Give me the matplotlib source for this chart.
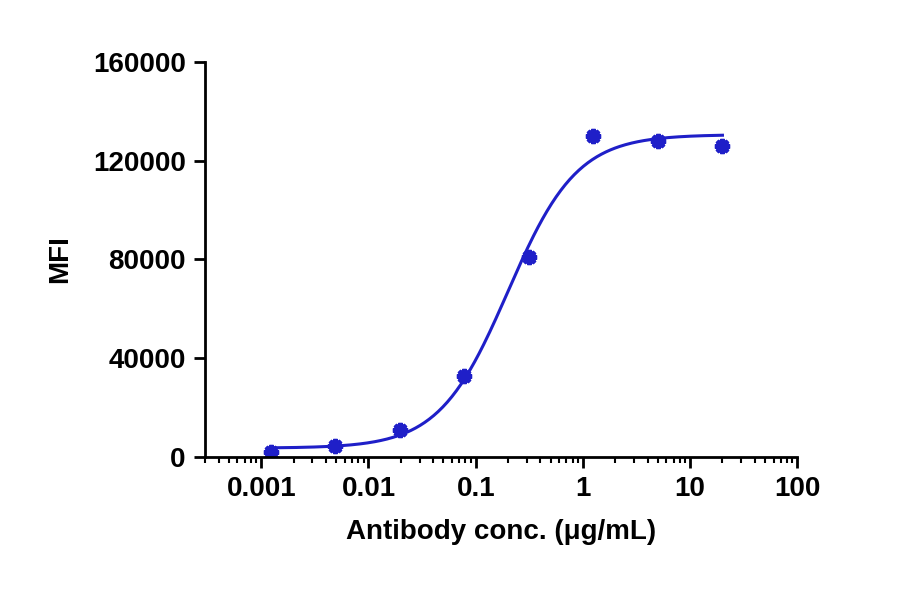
import matplotlib
matplotlib.use("Agg")
import matplotlib.pyplot as plt
import numpy as np

conc = [0.00122, 0.00488, 0.0195, 0.078, 0.3125, 1.25, 5, 20]
mfi = [2000, 4200, 10800, 32800, 81000, 130000, 128000, 126000]
# 4PL fit parameters
bottom, top, ec50, hill = 3500, 130500, 0.2, 1.35
yticks = [0, 40000, 80000, 120000, 160000]
xticks = [0.001, 0.01, 0.1, 1, 10, 100]
xticklabels = ["0.001", "0.01", "0.1", "1", "10", "100"]

blue = "#1f1fc8"
plt.rcParams['font.family'] = ['Liberation Sans', 'DejaVu Sans']
fig = plt.figure(figsize=(9, 5.94), dpi=100)
ax = fig.add_axes([0.228, 0.231, 0.658, 0.665])

xs = np.logspace(np.log10(conc[0]), np.log10(conc[-1]), 300)
ys = bottom + (top - bottom) / (1 + (ec50 / xs) ** hill)
ax.plot(xs, ys, color=blue, lw=2.2)
ax.plot(conc, mfi, linestyle='none', marker=(8, 2, 0), ms=11, mew=3, color=blue)
ax.plot(conc, mfi, linestyle='none', marker='o', ms=6, color=blue)

ax.set_xscale('log')
ax.set_xlim(0.0003, 100)
ax.set_ylim(0, 160000)
ax.set_yticks(yticks)
ax.set_yticklabels([str(v) for v in yticks])
ax.set_xticks(xticks)
ax.set_xticklabels(xticklabels)
ax.xaxis.set_minor_locator(matplotlib.ticker.LogLocator(base=10, subs=np.arange(2, 10)))
ax.xaxis.set_minor_formatter(matplotlib.ticker.NullFormatter())
for s in ['top', 'right']:
    ax.spines[s].set_visible(False)
for s in ['left', 'bottom']:
    ax.spines[s].set_linewidth(2)
ax.tick_params(axis='both', which='major', width=2, length=8, labelsize=20, pad=6)
ax.tick_params(axis='x', which='minor', width=1.5, length=4)
for lab in ax.get_xticklabels() + ax.get_yticklabels():
    lab.set_fontweight('bold')
ax.set_xlabel("Antibody conc. (μg/mL)", fontsize=20, fontweight='bold', labelpad=12)
ax.set_ylabel("MFI", fontsize=20, fontweight='bold', labelpad=14)
fig.savefig("out.png", dpi=100)
